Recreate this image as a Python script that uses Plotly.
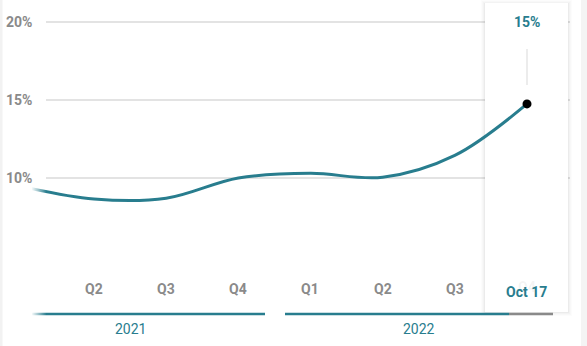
import plotly.graph_objects as go

# ---- data ----
periods = ["Q1 2021", "Q2 2021", "Q3 2021", "Q4 2021", "Q1 2022", "Q2 2022", "Q3 2022", "Oct 17 2022"]
values = [9.45, 8.65, 8.7, 10.0, 10.3, 10.05, 11.45, 14.75]
tick_labels = ["", "Q2", "Q3", "Q4", "Q1", "Q2", "Q3", "Q4"]
years = ["2021", "2022"]
year_centers = [1.5, 5.5]
y_ticks = [10, 15, 20]
y_tick_labels = ["10%", "15%", "20%"]
current_label = "Oct 17"
current_value_label = "15%"

W, H = 587, 346
L = 32
TEAL = "#287d8e"
GREY = "#8a8a8a"

x_idx = list(range(len(periods)))
# pixel mapping
x0px, dx = 21.8, 72.17
def ix(px):
    return (px - x0px) / dx
def px_paper(px):
    return (px - L) / (W - L)
def py_paper(py):
    return (H - py) / H
y_per_px = 5 / 78.0
y_top = 20 + 22 * y_per_px
y_bot = 10 - (H - 178) * y_per_px

fig = go.Figure()
fig.add_trace(go.Scatter(
    x=x_idx, y=values, mode="lines",
    line=dict(color=TEAL, width=3, shape="spline", smoothing=1.0),
    hoverinfo="skip", showlegend=False))
fig.add_trace(go.Scatter(
    x=[x_idx[-1]], y=[values[-1]], mode="markers",
    marker=dict(color="black", size=9), hoverinfo="skip", showlegend=False))

shapes = []
# side strips
shapes.append(dict(type="rect", xref="paper", yref="paper", x0=px_paper(0), x1=px_paper(2.5),
                   y0=0, y1=1, fillcolor="#f2f2f2", line=dict(width=0), layer="below"))
shapes.append(dict(type="rect", xref="paper", yref="paper", x0=px_paper(581), x1=px_paper(588),
                   y0=0, y1=1, fillcolor="#f4f4f4", line=dict(width=0), layer="below"))
# gridlines
for t in y_ticks:
    shapes.append(dict(type="line", xref="paper", yref="y", x0=px_paper(46), x1=px_paper(570),
                       y0=t, y1=t, line=dict(color="#e3e3e3", width=2), layer="below"))
# tooltip box with shadow
bx0, bx1, by0, by1 = 485, 568, 3, 312
for pad, a in [(4, 0.012), (3, 0.015), (2, 0.02), (1, 0.03)]:
    shapes.append(dict(type="rect", xref="paper", yref="paper",
                       x0=px_paper(bx0 - pad), x1=px_paper(bx1 + pad),
                       y0=py_paper(by1 + pad), y1=py_paper(by0 - pad + 1),
                       fillcolor=f"rgba(0,0,0,{a})", line=dict(width=0), layer="below"))
shapes.append(dict(type="rect", xref="paper", yref="paper", x0=px_paper(bx0), x1=px_paper(bx1),
                   y0=py_paper(by1), y1=py_paper(by0), fillcolor="white", line=dict(width=0), layer="below"))
# connector in tooltip
shapes.append(dict(type="line", xref="x", yref="paper", x0=x_idx[-1], x1=x_idx[-1],
                   y0=py_paper(85), y1=py_paper(49), line=dict(color="#e6e6e6", width=1.5), layer="below"))
# bottom year axis lines
ay = py_paper(314)
shapes.append(dict(type="line", xref="paper", yref="paper", x0=px_paper(32), x1=px_paper(265),
                   y0=ay, y1=ay, line=dict(color=TEAL, width=2.5), layer="above"))
shapes.append(dict(type="line", xref="paper", yref="paper", x0=px_paper(285), x1=px_paper(509),
                   y0=ay, y1=ay, line=dict(color=TEAL, width=2.5), layer="above"))
shapes.append(dict(type="line", xref="paper", yref="paper", x0=px_paper(509), x1=px_paper(553),
                   y0=ay, y1=ay, line=dict(color=GREY, width=2.5), layer="above"))
# left fade
n = 14
for i in range(n):
    a = 0.92 * (1 - i / n)
    shapes.append(dict(type="rect", xref="paper", yref="paper",
                       x0=px_paper(32 + i * 1.0), x1=px_paper(32 + (i + 1) * 1.0),
                       y0=0, y1=1, fillcolor=f"rgba(255,255,255,{a:.3f})", line=dict(width=0), layer="above"))

ann = []
for t, lab in zip(y_ticks, y_tick_labels):
    ann.append(dict(x=px_paper(34), xref="paper", y=t, yref="y", text=lab, showarrow=False,
                    xanchor="right", yanchor="middle",
                    font=dict(family="Roboto", size=14, color=GREY, weight="bold")))
for i, lab in enumerate(tick_labels):
    if not lab:
        continue
    color = GREY if i < len(tick_labels) - 1 else "rgba(138,138,138,0.10)"
    yy = 289 if i < len(tick_labels) - 1 else 287
    ann.append(dict(x=x_idx[i], xref="x", y=py_paper(yy), yref="paper", text=lab, showarrow=False,
                    xanchor="center", yanchor="middle",
                    font=dict(family="Roboto", size=14, color=color, weight="bold")))
ann.append(dict(x=x_idx[-1], xref="x", y=py_paper(291.5), yref="paper", text=current_label, showarrow=False,
                xanchor="center", yanchor="middle",
                font=dict(family="Roboto", size=14, color=TEAL, weight="bold")))
ann.append(dict(x=x_idx[-1], xref="x", y=py_paper(22), yref="paper", text=current_value_label, showarrow=False,
                xanchor="center", yanchor="middle",
                font=dict(family="Roboto", size=14, color=TEAL, weight="bold")))
for yr, c in zip(years, year_centers):
    ann.append(dict(x=c, xref="x", y=py_paper(329), yref="paper", text=yr, showarrow=False,
                    xanchor="center", yanchor="middle",
                    font=dict(family="Roboto", size=14, color=TEAL)))

fig.update_layout(
    width=W, height=H, margin=dict(l=L, r=0, t=0, b=0),
    paper_bgcolor="white", plot_bgcolor="rgba(0,0,0,0)",
    xaxis=dict(range=[ix(L), ix(W)], visible=False, fixedrange=True),
    yaxis=dict(range=[y_bot, y_top], visible=False, fixedrange=True),
    shapes=shapes, annotations=ann, showlegend=False)

fig.write_html("out.html", config={"displayModeBar": False})
